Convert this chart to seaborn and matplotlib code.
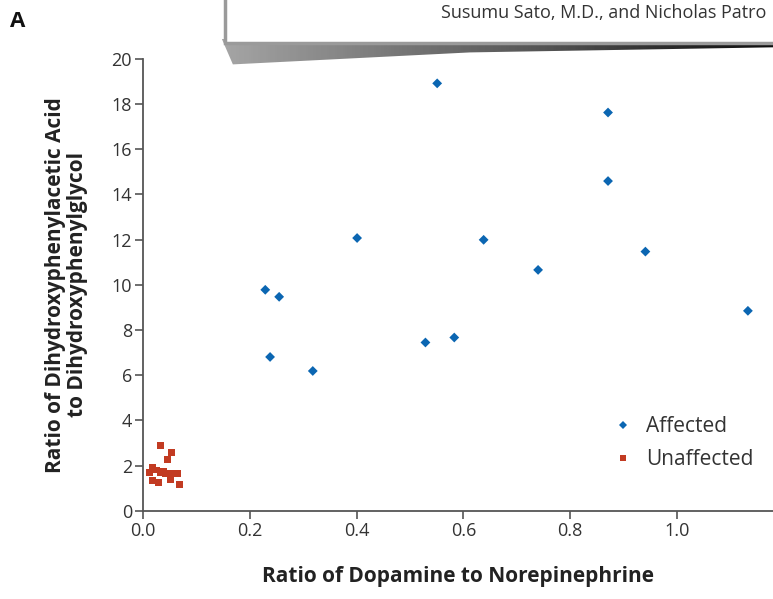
import matplotlib
matplotlib.use("agg")
import matplotlib.pyplot as plt
import matplotlib.patches as mpatches
import seaborn as sns
import numpy as np
import pandas as pd

# values
affected_x = [0.551, 0.871, 0.871, 0.401, 0.638, 0.941, 0.740, 0.229, 0.255,
              1.133, 0.529, 0.583, 0.238, 0.318]
affected_y = [18.91, 17.62, 14.59, 12.07, 11.99, 11.47, 10.66, 9.78, 9.47,
              8.85, 7.45, 7.67, 6.81, 6.19]
unaffected_x = [0.033, 0.053, 0.046, 0.018, 0.025, 0.012, 0.033, 0.043, 0.054,
                0.064, 0.017, 0.029, 0.051, 0.068, 0.038]
unaffected_y = [2.88, 2.58, 2.26, 1.92, 1.81, 1.69, 1.69, 1.67, 1.67,
                1.67, 1.33, 1.25, 1.37, 1.19, 1.75]
groups = ["Affected", "Unaffected"]
x_ticks = [0.0, 0.2, 0.4, 0.6, 0.8, 1.0]
y_ticks = [0, 2, 4, 6, 8, 10, 12, 14, 16, 18, 20]

df = pd.DataFrame({
    "x": affected_x + unaffected_x,
    "y": affected_y + unaffected_y,
    "group": [groups[0]] * len(affected_x) + [groups[1]] * len(unaffected_x),
})

sns.set_style("white")
plt.rcParams["font.family"] = ["Open Sans", "DejaVu Sans"]

fig = plt.figure(figsize=(7.73, 5.99), dpi=100)
ax = fig.add_axes([0.185, 0.147, 0.815, 0.755])

sns.scatterplot(data=df, x="x", y="y", hue="group", style="group",
                palette={"Affected": "#0b66b2", "Unaffected": "#c23b22"},
                markers={"Affected": "D", "Unaffected": "s"},
                s=25, linewidth=0, ax=ax, clip_on=False)

ax.set_xlim(0, 1.18)
ax.set_ylim(0, 20)
ax.set_xticks(x_ticks)
ax.set_xticklabels([f"{t:.1f}" for t in x_ticks])
ax.set_yticks(y_ticks)
ax.tick_params(direction="out", length=6, width=1.2, color="#555555",
               labelsize=13, labelcolor="#333333", left=True, bottom=True, pad=2)
for side in ["top", "right"]:
    ax.spines[side].set_visible(False)
for side in ["left", "bottom"]:
    ax.spines[side].set_color("#555555")
    ax.spines[side].set_linewidth(1.3)

ax.set_xlabel("Ratio of Dopamine to Norepinephrine", fontsize=15,
              fontweight="bold", color="#222222", labelpad=19)
ax.set_ylabel("Ratio of Dihydroxyphenylacetic Acid\nto Dihydroxyphenylglycol",
              fontsize=15, fontweight="bold", color="#222222", labelpad=17,
              linespacing=1.05)

leg = ax.legend(loc="center left", bbox_to_anchor=(0.716, 0.150), frameon=False,
                fontsize=15, handletextpad=0.1, labelspacing=0.55,
                borderaxespad=0, markerscale=0.85)
for t in leg.get_texts():
    t.set_color("#333333")

# panel letter
fig.text(0.013, 0.955, "A", fontsize=16, fontweight="bold", color="#111111")

# the paper card cut into the top of the screenshot, with its shadow
shadow_ax = fig.add_axes([0.287, 0.885, 0.713, 0.05])
shadow_ax.set_axis_off()
shade = np.tile(np.linspace(0.45, 0.95, 200), (20, 1))
img = shadow_ax.imshow(shade, cmap="Greys", vmin=0, vmax=1, aspect="auto",
                       extent=(0, 1, 0, 1))
clip = mpatches.Polygon([[0.0, 1.0], [1.0, 1.0], [1.0, 0.72], [0.45, 0.55],
                         [0.02, 0.15]], closed=True, transform=shadow_ax.transAxes)
img.set_clip_path(clip)

card = mpatches.Rectangle((0.291, 0.928), 0.72, 0.08, transform=fig.transFigure,
                          facecolor="white", edgecolor="#9a9a9a", linewidth=2.5)
fig.patches.append(card)
fig.text(0.571, 0.979, "Susumu Sato, M.D., and Nicholas Patro", fontsize=13,
         color="#333333", va="center")

fig.savefig("out.png", dpi=100)
